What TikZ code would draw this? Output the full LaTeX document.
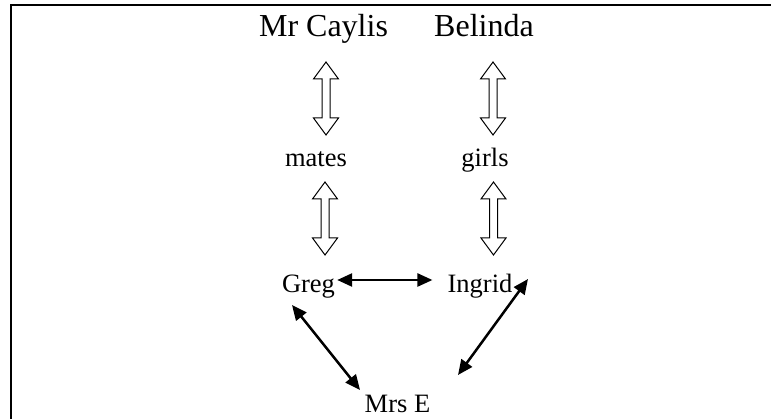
\documentclass[tikz,border=0pt]{standalone}
\usepackage{fontspec}
\setmainfont{Liberation Serif}
\usetikzlibrary{arrows.meta,calc}
\tikzset{
  big/.style={inner sep=0pt, anchor=base, font=\fontsize{32}{36}\selectfont},
  small/.style={inner sep=0pt, anchor=base, font=\fontsize{26.5}{30}\selectfont},
  blk/.style={line width=2.5pt, {Triangle[length=15pt,width=13pt]}-{Triangle[length=15pt,width=13pt]}},
  hollowdbl/.style={line width=1pt, line join=miter, to path={
    let \p1=(\tikztostart), \p2=(\tikztotarget) in
    (\x1,\y1) -- (\x1+12.5pt,\y1-17pt) -- (\x1+4pt,\y1-17pt) -- (\x1+4pt,\y2+17pt)
    -- (\x1+12.5pt,\y2+17pt) -- (\x1,\y2) -- (\x1-12.5pt,\y2+17pt) -- (\x1-4pt,\y2+17pt)
    -- (\x1-4pt,\y1-17pt) -- (\x1-12.5pt,\y1-17pt) -- cycle}}
}
\begin{document}
\begin{tikzpicture}[x=1pt,y=-1pt]
\useasboundingbox (0,0) rectangle (771,419);
\draw[line width=2pt] (771,5.5) -- (11,5.5) -- (11,420);
\node[big] (mc) at (323.5,37) {Mr Caylis};
\node[big] (bel) at (484,37) {Belinda};
\node[small] (mates) at (316,167) {mates};
\node[small] (girls) at (485,167) {girls};
\node[small] (greg) at (308.5,293) {Greg};
\node[small] (ingrid) at (480,293) {Ingrid};
\node[small] (mrse) at (397.5,413) {Mrs E};
% hollow double arrows
\draw[hollowdbl] ([xshift=2.5pt,yshift=-25pt]mc.base) to ([xshift=10pt,yshift=32pt]mates.base);
\draw[hollowdbl] ([xshift=9pt,yshift=-25pt]bel.base) to ([xshift=8pt,yshift=32pt]girls.base);
\draw[hollowdbl] ([xshift=9pt,yshift=-15pt]mates.base) to ([xshift=16.5pt,yshift=38pt]greg.base);
\draw[hollowdbl] ([xshift=8.5pt,yshift=-15pt]girls.base) to ([xshift=13.5pt,yshift=38pt]ingrid.base);
% black double arrows
\draw[blk] ([xshift=2pt,yshift=13pt]greg.base east) -- ([xshift=-15pt,yshift=13pt]ingrid.base west);
\draw[blk] ([xshift=-16.5pt,yshift=-12pt]greg.base) -- ([xshift=-37.5pt,yshift=23pt]mrse.base);
\draw[blk] ([xshift=48pt,yshift=14pt]ingrid.base) -- ([xshift=60.5pt,yshift=38pt]mrse.base);
\end{tikzpicture}
\end{document}
